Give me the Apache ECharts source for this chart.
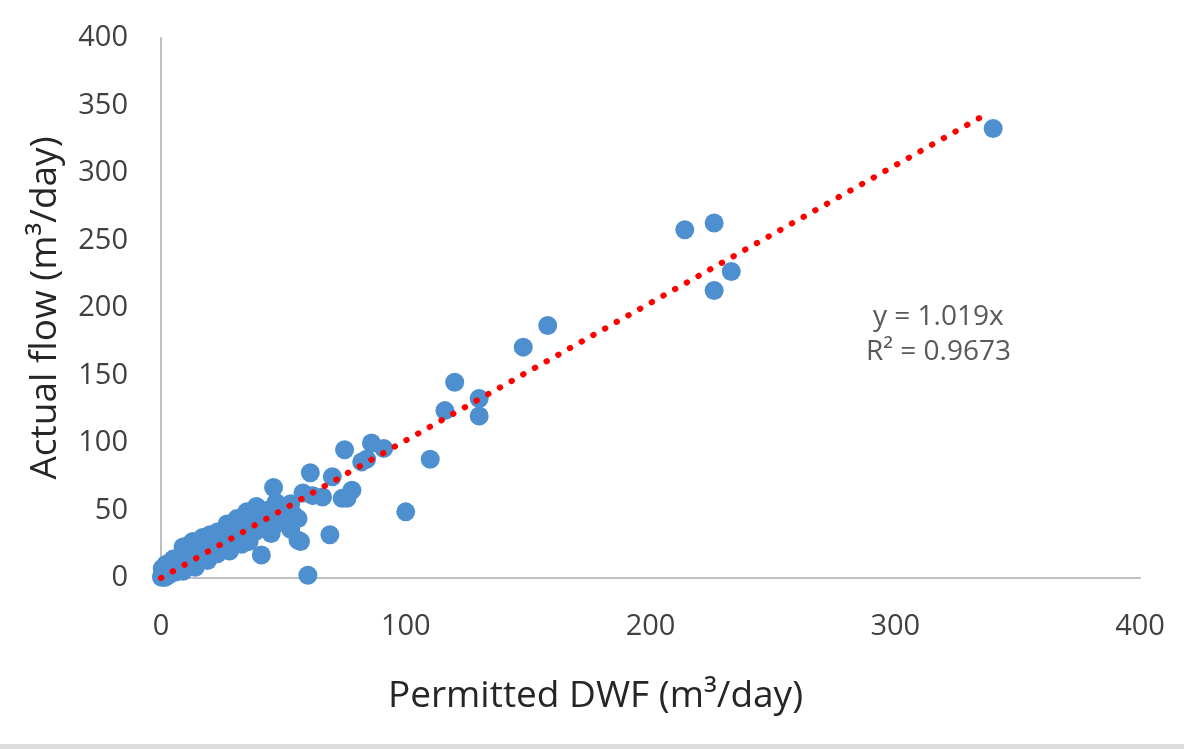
<!DOCTYPE html>
<html>
<head>
<meta charset="utf-8">
<style>
  html, body { margin: 0; padding: 0; background: #fff; }
  #container { width: 1184px; height: 749px; }
</style>
<script src="https://cdn.jsdelivr.net/npm/echarts@6/dist/echarts.min.js"></script>
</head>
<body>
<div id="container"></div>
<script>
// permitted DWF vs actual flow
var permitted = [0.2, 0.5, 1, 1, 1.5, 2, 2, 3, 3, 3.5, 4, 5, 5, 6, 6, 7, 7, 8, 8, 9,
	10, 10, 11, 11, 12, 12, 13, 14, 14, 15, 16, 16, 17, 18, 18, 19, 20, 20, 21, 22,
	23, 23, 24, 25, 26, 27, 27, 28, 29, 30, 30, 31, 32, 33, 34, 35, 35, 36, 37, 38,
	39, 39, 40, 41, 41, 42, 43, 44, 45, 45, 46, 47, 47, 48, 50, 51, 53, 53, 54, 56,
	56, 57, 58, 60, 61, 62, 66, 69, 70, 74, 75, 76, 78, 82, 84, 86, 91, 100, 110, 116,
	120, 130, 130, 148, 158, 214, 226, 226, 233, 340,
	5, 9, 9, 13, 14, 15, 17, 19, 20, 23, 23, 27, 28, 31, 33, 35, 36, 2, 4, 0.5];
var actual = [0.5, 2, 1, 4, 0.3, 3, 6, 2, 5, 8, 3.5, 6, 9, 4.5, 10, 7, 12, 6.5, 11, 9,
	14, 8, 24, 12, 10, 16, 13, 18, 11, 15, 21, 13, 17, 24, 14, 19, 26, 16, 22, 19,
	28, 24, 20, 30, 23, 33, 27, 23, 35, 30, 25, 37, 28, 34, 40, 30, 36, 44, 33, 40,
	53, 35, 46, 17, 38, 43, 50, 37, 33, 45, 67, 40, 56, 48, 42, 52, 55, 36, 47, 44,
	28, 27, 63, 2, 78, 61, 60, 32, 75, 59, 95, 59, 65, 86, 88, 100, 96, 49, 88, 124,
	145, 133, 120, 171, 187, 258, 263, 213, 227, 333,
	14, 23, 5, 27, 8, 26, 30, 13, 32, 34, 18, 40, 20, 44, 25, 49, 27, 10, 12, 7];

// linear trend line end points (y = 1.019x)
var trendX = [0, 338];
var trendY = [0, 344.4];

var xTicks = [0, 100, 200, 300, 400];
var yTicks = [0, 50, 100, 150, 200, 250, 300, 350, 400];

var equationText = 'y = 1.019x';
var rSquaredText = 'R² = 0.9673';

(function() {
	var dom = document.getElementById("container");
	var myChart = echarts.init(dom);

	var points = [];
	for (var i = 0; i < permitted.length; i++) {
		points.push([permitted[i], actual[i]]);
	}
	var trend = [];
	for (var j = 0; j < trendX.length; j++) {
		trend.push([trendX[j], trendY[j]]);
	}

	var font = '"Open Sans", "Noto Sans", sans-serif';

	var option = {
		animation: false,
		backgroundColor: '#ffffff',
		grid: {
			left: 161,
			right: 44,
			top: 38,
			bottom: 171
		},
		xAxis: {
			type: 'value',
			min: xTicks[0],
			max: xTicks[xTicks.length - 1],
			interval: 100,
			name: 'Permitted DWF (m³/day)',
			nameLocation: 'middle',
			nameGap: 100,
			nameTextStyle: {
				color: '#262626',
				fontSize: 37,
				fontFamily: font,
				padding: [0, 110, 0, 0]
			},
			axisLine: { lineStyle: { color: '#bfbfbf', width: 2 } },
			axisTick: { show: false },
			splitLine: { show: false },
			axisLabel: {
				color: '#404040',
				fontSize: 29,
				fontFamily: font,
				margin: 34
			}
		},
		yAxis: {
			type: 'value',
			min: yTicks[0],
			max: yTicks[yTicks.length - 1],
			interval: 50,
			name: 'Actual flow (m³/day)',
			nameLocation: 'middle',
			nameGap: 97,
			nameTextStyle: {
				color: '#262626',
				fontSize: 37,
				fontFamily: font
			},
			axisLine: { show: true, lineStyle: { color: '#bfbfbf', width: 2 } },
			axisTick: { show: false },
			splitLine: { show: false },
			axisLabel: {
				color: '#404040',
				fontSize: 29,
				fontFamily: font,
				margin: 33
			}
		},
		graphic: [{
			type: 'text',
			left: 873,
			top: 303,
			style: {
				text: equationText,
				font: '28px ' + font,
				fill: '#595959'
			}
		}, {
			type: 'text',
			left: 866,
			top: 338,
			style: {
				text: rSquaredText,
				font: '28px ' + font,
				fill: '#595959'
			}
		}, {
			type: 'rect',
			left: 0,
			top: 744,
			shape: { width: 1184, height: 5 },
			style: { fill: '#dcdcdc' }
		}],
		series: [{
			name: 'flow',
			type: 'scatter',
			symbol: 'circle',
			symbolSize: 19,
			itemStyle: {
				color: '#4e8fd0',
				opacity: 1
			},
			data: points,
			z: 2
		}, {
			name: 'trend',
			type: 'line',
			data: trend,
			showSymbol: false,
			symbol: 'none',
			lineStyle: {
				color: '#ff0000',
				width: 6,
				type: [0.5, 12.9],
				cap: 'round'
			},
			z: 3
		}]
	};

	if (option && typeof option === "object") {
		myChart.setOption(option, true);
	}
})();
</script>
</body>
</html>
